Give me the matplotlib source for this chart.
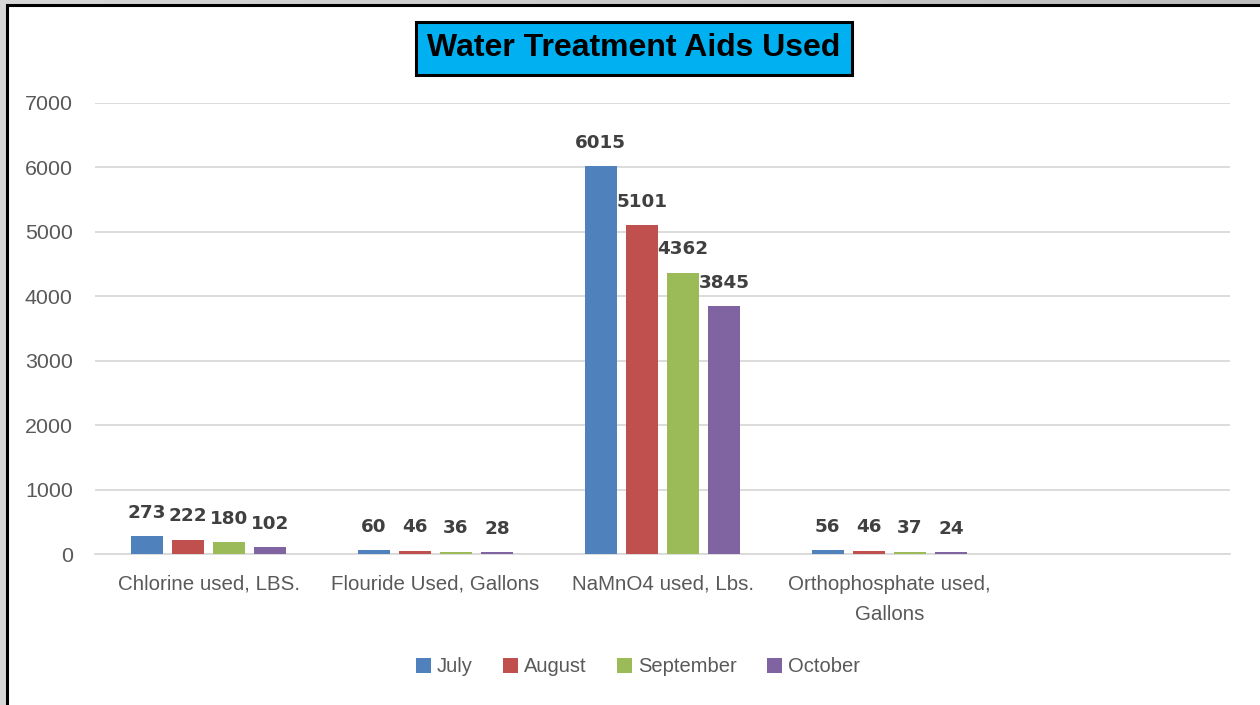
import numpy as np
import matplotlib.pyplot as plt
from matplotlib.patches import Rectangle

categories = ["Chlorine used, LBS.", "Flouride Used, Gallons", "NaMnO4 used, Lbs.",
              "Orthophosphate used,\nGallons", ""]
months = ["July", "August", "September", "October"]
july = [273, 60, 6015, 56]
august = [222, 46, 5101, 46]
september = [180, 36, 4362, 37]
october = [102, 28, 3845, 24]
colors = ["#4F81BD", "#C0504D", "#9BBB59", "#8064A2"]

W, H = 1260, 705
fig = plt.figure(figsize=(W / 100, H / 100), dpi=100)

# gray gradient backdrop around the chart frame
bg = fig.add_axes([0, 0, 1, 1])
grad = np.linspace(0.84, 0.74, 256).reshape(1, -1)
bg.imshow(grad, cmap="gray", vmin=0, vmax=1, aspect="auto", extent=[0, 1, 0, 1])
bg.add_patch(Rectangle((7 / W, -0.05), 1.1, 1 - 5 / H + 0.05, transform=bg.transAxes,
                       facecolor="white", edgecolor="black", linewidth=2.2))
bg.set_xlim(0, 1)
bg.set_ylim(0, 1)
bg.axis("off")

ax = fig.add_axes([95 / W, 1 - 554 / H, 1135 / W, 451 / H])
ax.set_facecolor("none")

series = [july, august, september, october]
x = np.arange(len(categories))
slot = 0.181
bw = 0.141
for i, vals in enumerate(series):
    pos = x[:len(vals)] + (i - 1.5) * slot
    bars = ax.bar(pos, vals, width=bw, color=colors[i], label=months[i], zorder=3)
    for b, v in zip(bars, vals):
        ax.annotate(str(v), (b.get_x() + b.get_width() / 2, v), xytext=(0, 17),
                    textcoords="offset points", ha="center", va="center",
                    fontsize=13.2, fontweight="bold", color="#404040",
                    family="DejaVu Sans")

ax.set_xlim(-0.5, len(categories) - 0.5)
ax.set_ylim(0, 7000)
ax.set_yticks(np.arange(0, 7001, 1000))
ax.yaxis.grid(True, color="#D9D9D9", linewidth=1.3, zorder=0)
ax.set_xticks(x)
ax.set_xticklabels(categories, fontsize=14.8, color="#595959", family="Liberation Sans",
                   linespacing=1.75)
for lbl in ax.get_yticklabels():
    lbl.set_fontsize(15.4)
    lbl.set_color("#595959")
    lbl.set_family("Liberation Sans")
ax.tick_params(axis="both", length=0)
ax.tick_params(axis="x", pad=15)
ax.tick_params(axis="y", pad=16)
for s in ["top", "right", "left"]:
    ax.spines[s].set_visible(False)
ax.spines["bottom"].set_color("#D9D9D9")
ax.spines["bottom"].set_linewidth(1.3)

fig.text(634 / W, 1 - 48 / H, "Water Treatment Aids Used", ha="center", va="center",
         fontsize=23, fontweight="bold", color="black", family="Liberation Sans",
         bbox=dict(boxstyle="square,pad=0.36", facecolor="#00B0F0", edgecolor="black",
                   linewidth=2.2))

fig.legend(loc="center", bbox_to_anchor=(638 / W, 1 - 667 / H), ncol=4, frameon=False,
           prop={"family": "Liberation Sans", "size": 14.5}, labelcolor="#595959",
           handlelength=0.75, handleheight=0.75, handletextpad=0.3, columnspacing=1.5)

fig.savefig("out.png", dpi=100)
